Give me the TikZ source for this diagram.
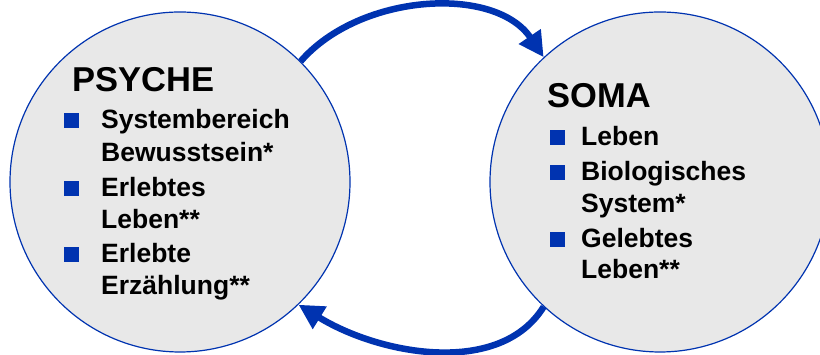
\documentclass[tikz,border=0pt]{standalone}
\usepackage{fontspec}
\setmainfont{Liberation Sans}
\usetikzlibrary{arrows.meta}
\definecolor{cblue}{HTML}{0033B0}
\definecolor{cgray}{HTML}{E8E8E8}
\begin{document}
\begin{tikzpicture}[x=1pt,y=1pt,
 circ/.style={circle,draw=cblue,line width=1.2pt,fill=cgray,minimum size=340pt,inner sep=0pt},
 ttl/.style={anchor=base west,inner sep=0pt,font=\fontsize{34.5}{38}\selectfont\bfseries},
 itm/.style={anchor=base west,inner sep=0pt,font=\fontsize{26.5}{30}\selectfont\bfseries},
 bul/.style={anchor=south west,fill=cblue,inner sep=0pt,minimum size=15pt},
 flow/.style={draw=cblue,line width=6.5pt,-{Triangle[length=25pt,width=25pt]}}]
\useasboundingbox (0,0) rectangle (820,355);
\node[circ] (psyche) at (180,173) {};
\node[circ] (soma) at (660,173) {};
\draw[flow] (psyche.45) .. controls (360,362) and (495,370) .. (soma.133);
\draw[flow] (soma.227) .. controls (500,-22) and (380,0) .. (psyche.-46);
% PSYCHE
\node[ttl] (pt) at (72,263) {PSYCHE};
\node[bul] (pb1) at (64,227) {};
\node[itm] (p1a) at (101,226) {Systembereich};
\node[itm] (p1b) at (101,193) {Bewusstsein*};
\node[bul] (pb2) at (64,159) {};
\node[itm] (p2a) at (101,158) {Erlebtes};
\node[itm] (p2b) at (101,126) {Leben**};
\node[bul] (pb3) at (64,93) {};
\node[itm] (p3a) at (101,92) {Erlebte};
\node[itm] (p3b) at (101,60) {Erzählung**};
% SOMA
\node[ttl] (st) at (547,247) {SOMA};
\node[bul] (sb1) at (550,210) {};
\node[itm] (s1) at (581,209) {Leben};
\node[bul] (sb2) at (550,175) {};
\node[itm] (s2a) at (581,174) {Biologisches};
\node[itm] (s2b) at (581,142) {System*};
\node[bul] (sb3) at (550,108) {};
\node[itm] (s3a) at (581,107) {Gelebtes};
\node[itm] (s3b) at (581,76) {Leben**};
\end{tikzpicture}
\end{document}
